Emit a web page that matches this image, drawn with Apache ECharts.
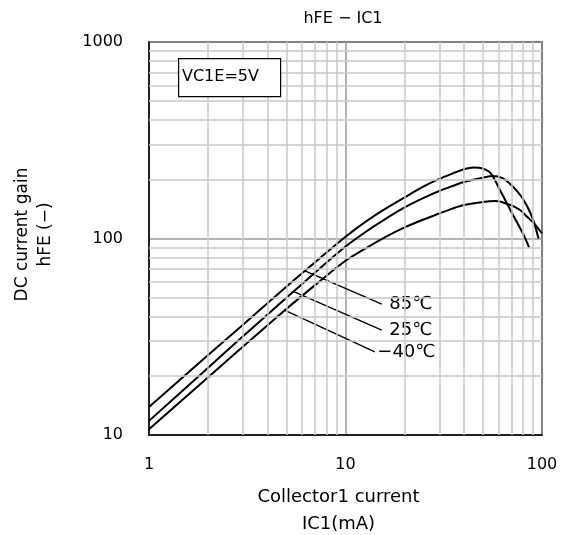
<!DOCTYPE html>
<html>
<head>
<meta charset="utf-8">
<script src="https://cdn.jsdelivr.net/npm/echarts@6/dist/echarts.min.js"></script>
<style>html,body{margin:0;padding:0;background:#fff}#c{width:568px;height:535px}</style>
</head>
<body>
<div id="c"></div>
<script>
// ---- data ----
const ic85 = [1, 2, 3, 5, 7, 10, 13, 16, 20, 25, 30, 35, 40, 45, 50, 55, 61, 70, 80, 86];
const hfe85 = [13.9, 25.5, 36.3, 56.8, 75.6, 102, 124, 142, 162, 184, 201, 214, 225, 230, 227, 214, 177, 136, 106, 90];

const ic25 = [1, 2, 3, 5, 7, 10, 13, 16, 20, 25, 30, 35, 40, 50, 56, 63, 71, 78, 84, 90, 96];
const hfe25 = [11.8, 22.0, 31.7, 49.9, 67.1, 91, 110, 126, 144, 161, 174.5, 185, 194, 204, 208, 203, 184, 165, 146, 125, 100];

const icM40 = [1, 2, 3, 5, 7, 10, 13, 16, 20, 25, 30, 35, 40, 50, 58, 69, 77, 84, 92, 100];
const hfeM40 = [10.7, 19.7, 28.1, 43.8, 57.9, 77, 90.5, 102, 114, 125, 134, 142, 148, 153.5, 155, 148, 140, 129, 118, 106];

// leader lines: [start on curve, end near label]
const leader85 = [[6.22, 68.5], [15.3, 46.4]];
const leader25 = [[5.42, 53.8], [15.3, 34.2]];
const leaderM40 = [[4.86, 43.3], [14.1, 26.5]];
const labelNames = ['85℃', '25℃', '−40℃'];

const xMinorGrid = [2, 3, 4, 5, 6, 7, 8, 9, 20, 30, 40, 50, 60, 70, 80, 90];
const yMinorGrid = [20, 30, 40, 50, 60, 70, 80, 90, 200, 300, 400, 500, 600, 700, 800, 900];

const xTickLabels = ['1', '10', '100'];
const yTickLabels = ['10', '100', '1000'];

const FONT = 'DejaVu Sans';

function zip(a, b) { return a.map((v, i) => [v, b[i]]); }

const curveStyle = { color: '#000', width: 2 };

const chart = echarts.init(document.getElementById('c'), null, { renderer: 'canvas' });
chart.setOption({
  backgroundColor: '#fff',
  animation: false,
  textStyle: { fontFamily: FONT },
  title: {
    text: 'hFE − IC1',
    left: 338, top: 6, textAlign: 'center',
    textStyle: { fontFamily: FONT, fontSize: 16, fontWeight: 'normal', color: '#000' }
  },
  grid: {
    left: 149, right: 26, top: 42, bottom: 100,
    containLabel: false, outerBoundsMode: 'none',
    show: true, borderColor: '#000', borderWidth: 1.5, backgroundColor: '#fff'
  },
  xAxis: {
    type: 'log', logBase: 10, min: 1, max: 100,
    name: 'Collector1 current\nIC1(mA)',
    nameLocation: 'middle', nameGap: 49,
    nameTextStyle: { fontFamily: FONT, fontSize: 18, color: '#000', lineHeight: 27, padding: [0, 14, 0, 0] },
    axisLine: { show: true, lineStyle: { color: '#000', width: 1.5 } },
    axisTick: { show: false },
    axisLabel: {
      margin: 22, fontFamily: FONT, fontSize: 16, color: '#000',
      formatter: v => { const s = String(Math.round(v)); return xTickLabels.includes(s) ? s : ''; }
    },
    splitLine: { show: true, lineStyle: { color: '#999', width: 1.5 } }
  },
  yAxis: {
    type: 'log', logBase: 10, min: 10, max: 1000,
    name: 'DC current gain\nhFE (−)',
    nameLocation: 'middle', nameGap: 92, nameRotate: 90,
    nameTextStyle: { fontFamily: FONT, fontSize: 17, color: '#000', lineHeight: 23, padding: [0, 0, 0, 8] },
    axisLine: { show: true, lineStyle: { color: '#000', width: 1.5 } },
    axisTick: { show: false },
    axisLabel: {
      margin: 26, fontFamily: FONT, fontSize: 16, color: '#000',
      formatter: v => { const s = String(Math.round(v)); return yTickLabels.includes(s) ? s : ''; }
    },
    splitLine: { show: true, lineStyle: { color: '#999', width: 1.5 } }
  },
  graphic: [
    {
      type: 'rect', left: 178, top: 58, z: 10,
      shape: { width: 102, height: 38 },
      style: { fill: '#fff', stroke: '#000', lineWidth: 1.2 }
    },
    {
      type: 'text', left: 182, top: 69, z: 11,
      style: { text: 'VC1E=5V', fill: '#000', font: '16px "' + FONT + '"' }
    }
  ],
  series: [
    {
      type: 'line', data: [], z: 1, silent: true,
      markLine: {
        silent: true, symbol: 'none', label: { show: false }, animation: false,
        lineStyle: { color: '#c8c8c8', width: 1.5, type: 'solid' },
        data: xMinorGrid.map(v => ({ xAxis: v })).concat(yMinorGrid.map(v => ({ yAxis: v })))
      }
    },
    { name: '85℃', type: 'line', data: zip(ic85, hfe85), smooth: 0.3, symbol: 'none', lineStyle: curveStyle, z: 3 },
    { name: '25℃', type: 'line', data: zip(ic25, hfe25), smooth: 0.3, symbol: 'none', lineStyle: curveStyle, z: 3 },
    { name: '−40℃', type: 'line', data: zip(icM40, hfeM40), smooth: 0.3, symbol: 'none', lineStyle: curveStyle, z: 3 },
    { type: 'line', data: leader85, symbol: 'none', lineStyle: { color: '#000', width: 1.3 }, z: 3 },
    { type: 'line', data: leader25, symbol: 'none', lineStyle: { color: '#000', width: 1.3 }, z: 3 },
    { type: 'line', data: leaderM40, symbol: 'none', lineStyle: { color: '#000', width: 1.3 }, z: 3 },
    {
      type: 'scatter', symbol: 'circle', symbolSize: 1, z: 4, silent: true,
      itemStyle: { color: 'rgba(0,0,0,0)', opacity: 1 },
      emphasis: { disabled: true },
      data: [
        { value: leader85[1], label: { distance: 5 } },
        { value: leader25[1], label: { distance: 5 } },
        { value: leaderM40[1], label: { distance: 0 } }
      ].map((d, i) => Object.assign(d, { name: labelNames[i] })),
      label: {
        show: true, position: 'right', formatter: '{b}',
        fontFamily: FONT, fontSize: 18, color: '#000', opacity: 1,
        backgroundColor: '#fff', padding: [1, 2]
      }
    }
  ]
});
</script>
</body>
</html>
